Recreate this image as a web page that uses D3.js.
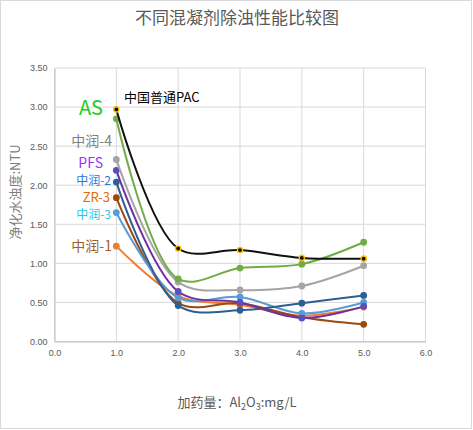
<!DOCTYPE html>
<html>
<head>
<meta charset="utf-8">
<script src="https://cdn.jsdelivr.net/npm/d3@7"></script>
<style>
  body { margin: 0; background: #fff; }
  svg { display: block; }
</style>
</head>
<body>
<script>
// dose (x) and turbidity per coagulant
var doses = [1, 2, 3, 4, 5];
var xTicks = [0, 1, 2, 3, 4, 5, 6];
var yTicks = [0, 0.5, 1, 1.5, 2, 2.5, 3, 3.5];

var names = ["中润-1", "ZR-3", "中润-3", "中润-2", "PFS", "中润-4", "AS", "中国普通PAC"];
var zr1 = [1.22, 0.58, 0.47, 0.33, 0.44];
var zrs3 = [1.84, 0.49, 0.49, 0.31, 0.22];
var zr3 = [1.65, 0.56, 0.57, 0.36, 0.50];
var zr2 = [2.04, 0.46, 0.40, 0.49, 0.59];
var pfs = [2.19, 0.64, 0.50, 0.30, 0.45];
var zr4 = [2.33, 0.76, 0.66, 0.71, 0.97];
var as = [2.85, 0.80, 0.94, 0.99, 1.27];
var pac = [2.97, 1.19, 1.17, 1.07, 1.06];
var seriesValues = [zr1, zrs3, zr3, zr2, pfs, zr4, as, pac];

// styling per series (same order as names)
var lineColors = ["#ED7D31", "#9E480E", "#5B9BD5", "#2C5F93", "#7030A0", "#A5A5A5", "#70AD47", "#111111"];
var markColors = ["#ED7D31", "#9E480E", "#5B9BD5", "#2C5F93", "#5A4FC0", "#A5A5A5", "#70AD47", "#111111"];

// text annotations beside x=1
var labels = [
  { t: "中国普通PAC", y: 3.13, x: 124, anchor: "start", size: 13, color: "#000000" },
  { t: "AS", y: 2.99, x: 103, anchor: "end", size: 20, color: "#1ECC1E" },
  { t: "中润-4", y: 2.57, x: 112, anchor: "end", size: 14, color: "#7F7F7F" },
  { t: "PFS", y: 2.29, x: 103, anchor: "end", size: 14, color: "#9933FF" },
  { t: "中润-2", y: 2.06, x: 111, anchor: "end", size: 12, color: "#2E75D6" },
  { t: "ZR-3", y: 1.84, x: 110, anchor: "end", size: 13, color: "#E36C0A" },
  { t: "中润-3", y: 1.62, x: 111, anchor: "end", size: 12, color: "#22C8E8" },
  { t: "中润-1", y: 1.22, x: 112, anchor: "end", size: 14, color: "#A0602A" }
];

var W = 473, H = 430;
var margin = { left: 54.5, right: 47.5, top: 68, bottom: 88.5 };
var width = W - margin.left - margin.right;
var height = H - margin.top - margin.bottom;

var svg = d3.select("body").append("svg")
  .attr("width", W)
  .attr("height", H);

svg.append("rect")
  .attr("x", 0.5).attr("y", 0.5)
  .attr("width", W - 2).attr("height", H - 2)
  .attr("fill", "#fff")
  .attr("stroke", "#D9D9D9");

var x = d3.scaleLinear().domain([0, 6]).range([0, width]);
var y = d3.scaleLinear().domain([0, 3.5]).range([height, 0]);

var g = svg.append("g")
  .attr("transform", "translate(" + margin.left + "," + margin.top + ")");

// grid
g.append("g")
  .selectAll("line")
  .data(yTicks)
  .enter().append("line")
  .attr("x1", 0).attr("x2", width)
  .attr("y1", d => y(d)).attr("y2", d => y(d))
  .attr("stroke", "#D9D9D9");

g.append("g")
  .selectAll("line")
  .data(xTicks)
  .enter().append("line")
  .attr("x1", d => x(d)).attr("x2", d => x(d))
  .attr("y1", 0).attr("y2", height)
  .attr("stroke", "#D9D9D9");

// axes
var xAxis = g.append("g")
  .attr("transform", "translate(0," + height + ")")
  .call(d3.axisBottom(x).tickValues(xTicks).tickFormat(d3.format(".1f")).tickSize(0).tickPadding(8));
var yAxis = g.append("g")
  .call(d3.axisLeft(y).tickValues(yTicks).tickFormat(d3.format(".2f")).tickSize(0).tickPadding(7));

[xAxis, yAxis].forEach(function (a) {
  a.select(".domain").attr("stroke", "#BFBFBF");
  a.selectAll("text")
    .style("font-family", "'Liberation Sans', Arial, sans-serif")
    .style("font-size", "9px")
    .attr("fill", "#595959");
});

// lines (smoothed like the spreadsheet)
var line = d3.line()
  .x(d => x(d[0]))
  .y(d => y(d[1]))
  .curve(d3.curveCatmullRom.alpha(0.5));

seriesValues.forEach(function (vals, i) {
  var pts = doses.map((d, j) => [d, vals[j]]);
  var sg = g.append("g");
  sg.append("path")
    .datum(pts)
    .attr("d", line)
    .attr("fill", "none")
    .attr("stroke", lineColors[i])
    .attr("stroke-width", 2);
  sg.selectAll("circle")
    .data(pts)
    .enter().append("circle")
    .attr("cx", d => x(d[0]))
    .attr("cy", d => y(d[1]))
    .attr("r", i == 7 ? 2.6 : 3.4)
    .attr("fill", markColors[i])
    .attr("stroke", i == 7 ? "#FFC000" : "none")
    .attr("stroke-width", 1.4);
});

// annotations
labels.forEach(function (l) {
  svg.append("text")
    .attr("x", l.x)
    .attr("y", margin.top + y(l.y))
    .attr("dy", "0.36em")
    .attr("text-anchor", l.anchor)
    .style("font-family", "'Noto Sans CJK SC', sans-serif")
    .style("font-size", l.size + "px")
    .attr("fill", l.color)
    .text(l.t);
});

// title
svg.append("text")
  .attr("x", 237).attr("y", 24)
  .attr("text-anchor", "middle")
  .style("font-family", "'Noto Sans CJK SC', sans-serif")
  .style("font-size", "17px")
  .attr("fill", "#595959")
  .text("不同混凝剂除浊性能比较图");

// y label
svg.append("text")
  .attr("transform", "translate(20,192) rotate(-90)")
  .attr("text-anchor", "middle")
  .style("font-family", "'Noto Sans CJK SC', sans-serif")
  .style("font-size", "13px")
  .attr("fill", "#7F7F7F")
  .text("净化水浊度:NTU");

// x label
var xl = svg.append("text")
  .attr("x", 237).attr("y", 407)
  .attr("text-anchor", "middle")
  .style("font-family", "'Noto Sans CJK SC', sans-serif")
  .style("font-size", "13px")
  .attr("fill", "#595959");
xl.append("tspan").text("加药量：Al");
xl.append("tspan").attr("dy", 3).style("font-size", "9px").text("2");
xl.append("tspan").attr("dy", -3).text("O");
xl.append("tspan").attr("dy", 3).style("font-size", "9px").text("3");
xl.append("tspan").attr("dy", -3).text(":mg/L");
</script>
</body>
</html>
